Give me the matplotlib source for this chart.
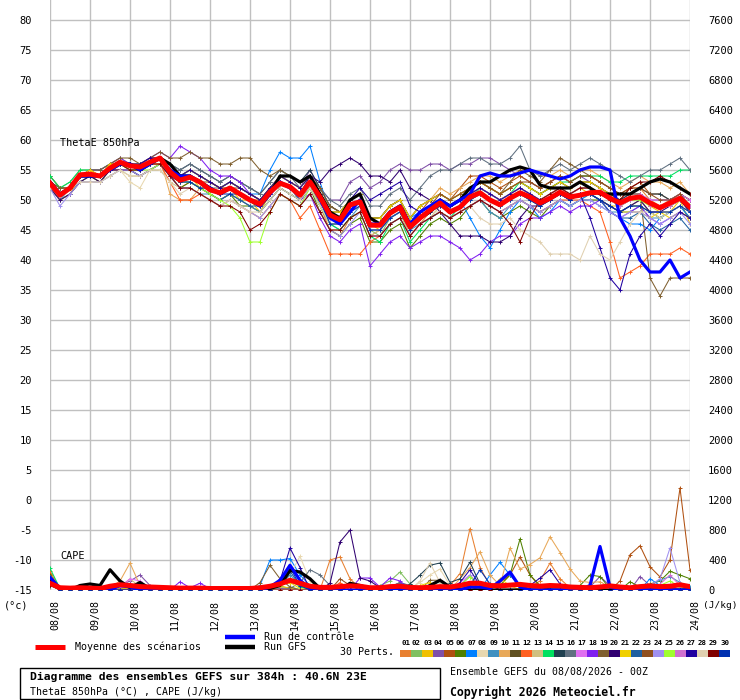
import numpy as np
import matplotlib
matplotlib.use('Agg')
import matplotlib.pyplot as plt
from matplotlib.patches import Rectangle

plt.rcParams['font.family'] = ['DejaVu Sans Mono', 'DejaVu Sans']

# time axis: GEFS output every 6h over 384h
hours = np.arange(0, 385, 6)
day_labels = ['08/08', '09/08', '10/08', '11/08', '12/08', '13/08', '14/08', '15/08', '16/08',
              '17/08', '18/08', '19/08', '20/08', '21/08', '22/08', '23/08', '24/08']
theta_ticks = list(range(-15, 81, 5))
cape_ticks = list(range(0, 7601, 400))

member_ids = ['%02d' % k for k in range(1, 31)]
member_colors = ['#e88030', '#80c060', '#f0c000', '#8050a8', '#b05010', '#508000', '#0080ff',
                 '#e8d8b0', '#4090c0', '#e8a858', '#605020', '#ff6020', '#d0c080', '#00e060',
                 '#204050', '#607080', '#e070f0', '#8020f0', '#806030', '#300070', '#f0d000',
                 '#2060a0', '#905020', '#a090f0', '#a0ff30', '#d070d0', '#2000a0', '#e0d0b0',
                 '#800000', '#0030b0']

# ---- ThetaE 850hPa (degC) ----
theta_mean = [52.8, 50.8, 52.0, 54.2, 54.3, 54.0, 55.3, 56.3, 55.7, 55.5, 56.3, 57.0, 54.7,
              53.3, 53.8, 53.0, 51.7, 51.2, 52.0, 51.0, 50.0, 49.3, 51.3, 52.8, 52.2, 50.8,
              53.0, 50.5, 47.5, 46.7, 49.2, 49.7, 45.8, 45.8, 47.8, 48.8, 45.5, 47.0, 48.3,
              49.5, 48.0, 48.8, 50.5, 51.2, 50.0, 49.2, 50.3, 51.2, 50.5, 49.5, 50.3, 51.3,
              50.5, 50.8, 51.2, 51.3, 50.3, 49.5, 50.3, 50.5, 49.5, 48.7, 49.5, 50.3, 48.8]
theta_ctrl = [53, 51, 52, 54, 54, 54, 55, 56, 56, 55, 56, 57, 55,
              54, 54, 53, 52, 51, 52, 51, 50, 49, 51, 53, 52, 51,
              53, 50, 47, 46, 48, 50, 46, 46, 48, 49, 46, 48, 49,
              50, 49, 50, 51, 54, 54.5, 54, 54, 54.5, 55, 54.5, 54, 53.5,
              54, 55, 55.5, 55.5, 55, 47, 44, 40, 38, 38, 40, 37, 38]
theta_gfs = [53, 51, 52, 54, 54, 54, 55, 56, 56, 55, 56, 57, 56,
             54, 54, 53, 52, 51, 52, 51, 50, 49, 51, 54, 54, 53,
             54, 51, 48, 47, 50, 51, 47, 46, 48, 49, 46, 47, 48,
             50, 49, 50, 52, 53, 53, 54, 55, 55.5, 55, 52.5, 52, 52,
             52, 53, 52, 51, 51, 51, 51, 52, 53, 53.5, 53, 52, 51]

theta_01 = [53, 51, 52, 54, 55, 54, 55, 56, 55, 55, 56, 57, 54,
            52, 53, 52, 51, 50, 51, 50, 49, 48, 50, 52, 51, 50,
            52, 49, 45, 44, 47, 48, 44, 45, 47, 48, 44, 46, 48,
            50, 49, 50, 52, 53, 52, 51, 52, 53, 52, 51, 52, 53,
            52, 53, 53, 52, 51, 50, 52, 52, 50, 49, 50, 51, 50]
theta_02 = [54, 52, 53, 55, 55, 55, 56, 57, 56, 56, 57, 57, 56,
            54, 55, 54, 53, 52, 53, 52, 51, 50, 52, 54, 53, 52,
            54, 51, 48, 46, 48, 50, 45, 44, 47, 48, 44, 46, 47,
            48, 47, 48, 49, 50, 49, 48, 49, 50, 49, 48, 49, 50,
            49, 50, 51, 50, 49, 48, 49, 50, 48, 47, 48, 49, 48]
theta_03 = [52, 50, 51, 54, 54, 53, 55, 56, 55, 55, 56, 56, 54,
            53, 54, 52, 52, 51, 52, 50, 50, 48, 51, 53, 52, 50,
            53, 49, 46, 46, 48, 50, 46, 45, 48, 49, 45, 47, 48,
            50, 49, 50, 51, 52, 51, 50, 51, 52, 51, 50, 51, 52,
            51, 52, 51, 50, 49, 49, 50, 51, 49, 48, 48, 50, 46]
theta_04 = [53, 51, 52, 54, 54, 54, 55, 56, 56, 55, 56, 57, 55,
            54, 55, 54, 53, 52, 53, 52, 51, 50, 52, 54, 53, 52,
            55, 52, 50, 50, 53, 54, 52, 53, 55, 56, 55, 55, 56,
            56, 55, 56, 56, 57, 57, 56, 55, 54, 53, 52, 53, 54,
            53, 54, 53, 52, 51, 50, 51, 51, 50, 50, 50, 51, 49]
theta_05 = [54, 52, 52, 54, 55, 54, 56, 56, 56, 56, 57, 57, 55,
            53, 54, 53, 52, 51, 52, 51, 50, 50, 51, 53, 52, 51,
            53, 51, 49, 48, 50, 51, 47, 46, 48, 49, 46, 48, 50,
            51, 50, 52, 54, 54, 53, 52, 53, 54, 53, 52, 53, 54,
            53, 54, 54, 53, 52, 51, 52, 53, 51, 51, 50, 51, 50]
theta_06 = [52, 50, 51, 53, 54, 53, 55, 55, 55, 54, 55, 56, 54,
            52, 53, 52, 51, 50, 51, 49, 49, 48, 50, 52, 51, 50,
            52, 48, 45, 44, 46, 47, 43, 43, 45, 46, 42, 44, 46,
            47, 46, 47, 49, 50, 48, 47, 48, 49, 48, 47, 49, 50,
            49, 50, 50, 50, 49, 48, 49, 49, 48, 47, 48, 49, 47]
theta_07 = [53, 51, 52, 54, 54, 54, 55, 55, 55, 55, 56, 57, 55,
            53, 54, 53, 52, 52, 53, 52, 51, 51, 55, 58, 57, 57,
            59, 53, 48, 47, 49, 50, 47, 47, 49, 50, 47, 48, 49,
            50, 49, 50, 47, 44, 42, 45, 48, 50, 49, 47, 48, 50,
            49, 50, 51, 50, 48, 47, 46, 46, 45, 47, 48, 49, 47]
theta_08 = [53, 51, 52, 54, 54, 54, 55, 55, 53, 52, 55, 56, 54,
            53, 54, 53, 52, 51, 52, 51, 50, 50, 52, 54, 53, 52,
            54, 51, 48, 48, 50, 51, 47, 46, 48, 49, 46, 48, 49,
            50, 49, 50, 51, 52, 51, 50, 51, 52, 51, 50, 51, 52,
            51, 52, 52, 51, 50, 49, 50, 50, 49, 49, 49, 50, 49]
theta_09 = [52, 50, 52, 53, 53, 53, 54, 55, 55, 54, 55, 56, 54,
            52, 52, 51, 51, 50, 51, 50, 49, 48, 50, 52, 51, 50,
            52, 49, 46, 45, 47, 49, 45, 45, 47, 48, 45, 46, 47,
            48, 47, 48, 49, 50, 48, 47, 49, 50, 49, 48, 49, 50,
            49, 50, 50, 49, 48, 48, 48, 49, 47, 47, 48, 49, 48]
theta_10 = [53, 51, 52, 54, 55, 54, 55, 56, 56, 56, 56, 57, 51,
            50, 50, 52, 52, 52, 52, 51, 50, 50, 52, 54, 53, 52,
            54, 51, 49, 48, 50, 51, 47, 47, 49, 50, 47, 49, 50,
            52, 51, 52, 53, 54, 54, 53, 54, 55, 55, 54, 54, 55,
            54, 55, 55, 54, 53, 52, 53, 54, 53, 53, 52, 53, 51]
theta_11 = [53, 52, 52, 54, 54, 54, 55, 56, 56, 55, 56, 57, 55,
            54, 55, 54, 53, 52, 53, 52, 51, 50, 52, 53, 52, 51,
            53, 51, 48, 48, 50, 51, 47, 47, 49, 50, 46, 48, 49,
            50, 49, 50, 51, 52, 51, 50, 51, 52, 51, 50, 51, 52,
            51, 52, 52, 51, 50, 49, 50, 51, 49, 49, 49, 50, 48]
theta_12 = [53, 51, 52, 54, 54, 54, 55, 55, 55, 55, 56, 56, 53,
            50, 50, 51, 50, 49, 50, 49, 48, 47, 49, 51, 50, 47,
            49, 45, 41, 41, 41, 41, 43, 44, 46, 47, 44, 46, 47,
            48, 47, 48, 49, 50, 49, 48, 49, 50, 49, 48, 49, 50,
            50, 50, 49, 48, 43, 37, 38, 39, 41, 41, 41, 42, 41]
theta_13 = [52, 50, 51, 53, 53, 53, 54, 55, 54, 54, 55, 55, 53,
            52, 52, 51, 50, 49, 50, 49, 48, 47, 49, 51, 50, 49,
            51, 48, 45, 45, 47, 48, 44, 45, 47, 48, 44, 46, 47,
            49, 48, 49, 50, 51, 50, 49, 50, 51, 50, 49, 50, 51,
            50, 51, 51, 50, 49, 48, 49, 50, 48, 48, 48, 49, 48]
theta_14 = [54, 52, 53, 55, 55, 55, 56, 56, 56, 56, 56, 57, 55,
            53, 54, 53, 52, 51, 52, 51, 50, 49, 51, 53, 52, 51,
            53, 50, 46, 45, 47, 48, 44, 43, 46, 47, 43, 45, 47,
            48, 47, 49, 50, 52, 51, 50, 51, 53, 52, 51, 52, 53,
            53, 54, 54, 54, 53, 53, 54, 54, 54, 54, 54, 55, 55]
theta_15 = [53, 51, 52, 54, 54, 54, 55, 56, 56, 55, 56, 57, 56,
            55, 56, 55, 54, 53, 54, 53, 52, 51, 53, 55, 54, 53,
            55, 52, 49, 48, 50, 51, 47, 47, 49, 50, 47, 49, 50,
            51, 50, 51, 52, 53, 52, 51, 52, 53, 52, 51, 52, 53,
            52, 53, 53, 52, 51, 50, 51, 52, 51, 51, 50, 51, 50]
theta_16 = [53, 51, 52, 54, 54, 54, 55, 56, 56, 55, 56, 57, 56,
            55, 56, 55, 54, 53, 54, 53, 52, 51, 53, 55, 54, 52,
            54, 52, 50, 49, 51, 52, 49, 49, 51, 52, 50, 52, 54,
            55, 55, 56, 57, 57, 56, 56, 57, 59, 55, 54, 55, 56,
            55, 56, 57, 56, 55, 54, 53, 54, 55, 55, 56, 57, 55]
theta_17 = [53, 51, 52, 54, 54, 54, 55, 56, 56, 55, 56, 57, 55,
            53, 54, 53, 52, 51, 52, 51, 50, 49, 51, 53, 52, 51,
            53, 50, 47, 47, 49, 50, 46, 46, 48, 49, 46, 48, 49,
            50, 49, 50, 51, 52, 51, 50, 51, 52, 51, 50, 51, 52,
            51, 52, 52, 51, 50, 49, 50, 51, 50, 50, 50, 51, 50]
theta_18 = [53, 51, 52, 54, 55, 55, 56, 57, 56, 56, 57, 58, 57,
            59, 58, 57, 55, 54, 54, 53, 51, 50, 52, 53, 52, 50,
            51, 47, 44, 43, 45, 46, 39, 41, 43, 44, 42, 43, 44,
            44, 43, 42, 40, 41, 43, 44, 44, 46, 47, 47, 48, 49,
            48, 49, 49, 50, 48, 47, 48, 49, 47, 46, 47, 48, 47]
theta_19 = [53, 52, 52, 54, 55, 55, 56, 57, 57, 56, 57, 58, 57,
            57, 58, 57, 57, 56, 56, 57, 57, 55, 54, 55, 54, 53,
            54, 52, 49, 48, 50, 51, 47, 47, 49, 50, 47, 49, 50,
            51, 50, 51, 52, 53, 52, 51, 53, 55, 54, 53, 55, 57,
            56, 55, 54, 53, 52, 51, 51, 51, 37, 34, 37, 37, 37]
theta_20 = [52, 50, 51, 53, 54, 53, 55, 55, 55, 54, 55, 56, 54,
            53, 54, 53, 52, 51, 52, 51, 50, 49, 51, 53, 52, 51,
            54, 53, 55, 56, 57, 56, 54, 54, 53, 55, 52, 51, 50,
            48, 46, 44, 44, 44, 43, 43, 44, 47, 49, 49, 50, 51,
            50, 51, 51, 50, 49, 48, 49, 50, 48, 48, 49, 50, 48]
theta_21 = [53, 51, 52, 54, 55, 54, 56, 56, 56, 56, 56, 57, 55,
            54, 55, 54, 53, 52, 53, 52, 51, 50, 52, 54, 53, 52,
            54, 51, 48, 48, 50, 51, 47, 47, 49, 50, 47, 49, 50,
            51, 50, 51, 52, 53, 52, 51, 52, 53, 52, 51, 52, 53,
            52, 53, 53, 52, 51, 48, 48, 48, 47, 48, 47, 48, 47]
theta_22 = [53, 51, 52, 54, 54, 54, 55, 56, 55, 55, 56, 57, 55,
            53, 53, 52, 51, 50, 51, 50, 49, 49, 51, 53, 52, 50,
            52, 49, 46, 46, 48, 49, 45, 45, 47, 48, 45, 47, 48,
            49, 48, 49, 50, 51, 50, 49, 50, 51, 50, 49, 50, 51,
            50, 51, 51, 50, 48, 47, 47, 48, 46, 45, 46, 47, 45]
theta_23 = [53, 51, 52, 54, 54, 54, 55, 56, 56, 55, 56, 57, 55,
            54, 54, 53, 53, 52, 52, 52, 51, 50, 52, 53, 52, 51,
            53, 51, 48, 47, 49, 50, 46, 46, 48, 49, 46, 48, 49,
            51, 50, 51, 52, 53, 52, 51, 52, 53, 53, 52, 53, 54,
            53, 54, 54, 53, 52, 51, 52, 52, 51, 50, 50, 51, 49]
theta_24 = [52, 49, 51, 53, 53, 53, 54, 55, 55, 54, 55, 56, 54,
            52, 52, 51, 50, 49, 50, 49, 48, 47, 49, 51, 50, 49,
            51, 48, 45, 44, 46, 48, 44, 44, 46, 47, 44, 46, 47,
            48, 47, 48, 49, 50, 49, 48, 49, 50, 49, 48, 49, 50,
            49, 50, 50, 49, 48, 47, 48, 48, 47, 46, 47, 48, 46]
theta_25 = [53, 51, 52, 54, 54, 54, 55, 56, 55, 55, 55, 56, 55,
            53, 53, 52, 51, 50, 49, 47, 43, 43, 48, 51, 50, 49,
            52, 49, 46, 46, 48, 50, 46, 46, 48, 49, 46, 48, 49,
            50, 49, 50, 51, 52, 51, 50, 51, 52, 51, 50, 51, 52,
            51, 52, 52, 51, 50, 49, 50, 50, 49, 49, 49, 50, 49]
theta_26 = [53, 51, 52, 54, 54, 54, 55, 56, 56, 55, 56, 57, 55,
            54, 54, 53, 52, 51, 52, 51, 50, 49, 51, 53, 52, 51,
            53, 50, 47, 46, 48, 50, 46, 46, 48, 49, 46, 48, 49,
            50, 49, 50, 51, 52, 51, 50, 51, 52, 51, 50, 51, 52,
            51, 52, 52, 51, 50, 49, 50, 51, 49, 49, 49, 50, 49]
theta_27 = [53, 51, 52, 54, 54, 54, 55, 56, 56, 56, 57, 57, 55,
            54, 55, 54, 53, 52, 53, 52, 51, 50, 52, 54, 53, 52,
            54, 51, 48, 47, 50, 52, 50, 51, 52, 53, 49, 48, 49,
            50, 49, 50, 51, 52, 51, 50, 51, 52, 51, 50, 50, 51,
            50, 51, 47, 42, 37, 35, 41, 44, 46, 44, 46, 48, 47]
theta_28 = [52, 51, 52, 53, 53, 53, 54, 55, 54, 54, 55, 55, 53,
            51, 52, 51, 50, 49, 50, 49, 48, 48, 50, 52, 51, 50,
            52, 49, 46, 46, 48, 49, 45, 45, 47, 48, 45, 47, 48,
            48, 47, 48, 49, 47, 46, 46, 47, 45, 44, 43, 41, 41,
            41, 40, 44, 41, 40, 43, 46, 48, 48, 47, 48, 49, 48]
theta_29 = [53, 51, 52, 54, 54, 54, 55, 56, 55, 55, 56, 56, 54,
            52, 52, 51, 50, 49, 49, 48, 45, 46, 48, 51, 50, 49,
            51, 48, 45, 45, 47, 48, 44, 44, 46, 47, 44, 46, 47,
            48, 47, 48, 49, 50, 49, 48, 46, 43, 47, 50, 51, 52,
            51, 52, 52, 51, 50, 50, 52, 53, 53, 54, 53, 52, 51]
theta_30 = [53, 51, 52, 54, 54, 54, 55, 56, 56, 55, 56, 57, 55,
            53, 53, 52, 52, 51, 51, 51, 50, 49, 51, 53, 52, 51,
            53, 50, 46, 46, 48, 49, 45, 45, 47, 48, 45, 47, 48,
            49, 48, 49, 50, 51, 50, 49, 50, 51, 50, 49, 50, 51,
            50, 51, 51, 50, 49, 48, 49, 49, 48, 48, 48, 49, 48]

# ---- CAPE (J/kg) ----
cape_mean = [90, 30, 25, 30, 25, 20, 50, 70, 60, 45, 40, 35, 30,
             25, 25, 25, 20, 20, 20, 20, 20, 30, 50, 80, 130, 90,
             50, 35, 35, 45, 55, 50, 30, 30, 45, 50, 35, 30, 35,
             45, 40, 60, 90, 90, 60, 55, 65, 75, 60, 50, 60, 55,
             40, 35, 30, 40, 55, 40, 30, 45, 55, 45, 50, 70, 45]
cape_ctrl = [170, 20, 0, 0, 0, 0, 0, 60, 40, 0, 0, 0, 0,
             0, 0, 0, 0, 0, 0, 0, 0, 0, 40, 130, 330, 130,
             20, 0, 0, 0, 0, 0, 0, 0, 0, 0, 0, 0, 0,
             0, 0, 0, 40, 40, 20, 120, 240, 40, 0, 0, 0, 0,
             0, 0, 60, 580, 40, 0, 0, 0, 0, 0, 0, 0, 0]
cape_gfs = [130, 20, 0, 60, 80, 60, 270, 120, 30, 100, 20, 0, 0,
            0, 0, 0, 0, 0, 0, 0, 0, 0, 20, 60, 260, 240,
            150, 20, 0, 0, 90, 60, 20, 0, 0, 0, 0, 0, 60,
            130, 40, 0, 0, 0, 0, 0, 0, 0, 0, 0, 0, 0,
            0, 0, 0, 0, 0, 0, 0, 0, 0, 0, 0, 0, 0]

cape_01 = [150, 10, 0, 0, 0, 0, 20, 30, 10, 0, 0, 0, 0,
           0, 0, 0, 0, 0, 0, 0, 0, 0, 10, 30, 20, 0,
           0, 0, 400, 440, 150, 20, 0, 0, 10, 20, 0, 0, 0,
           40, 60, 220, 820, 300, 60, 0, 0, 20, 40, 120, 360, 150,
           30, 0, 0, 0, 0, 0, 0, 0, 0, 0, 20, 10, 0]
cape_02 = [200, 20, 10, 0, 0, 0, 10, 20, 40, 80, 20, 0, 0,
           0, 0, 0, 0, 0, 0, 0, 0, 0, 0, 20, 40, 10,
           0, 0, 0, 0, 0, 10, 30, 60, 120, 240, 80, 20, 0,
           0, 20, 60, 180, 40, 0, 0, 10, 0, 0, 0, 10, 0,
           0, 0, 0, 0, 0, 0, 0, 0, 0, 0, 0, 0, 0]
cape_03 = [120, 10, 0, 0, 0, 0, 0, 10, 20, 10, 0, 0, 0,
           0, 0, 0, 0, 0, 0, 0, 0, 10, 30, 60, 20, 0,
           0, 0, 0, 0, 0, 0, 0, 0, 0, 0, 0, 0, 0,
           0, 0, 30, 100, 40, 20, 60, 200, 60, 10, 0, 0, 0,
           0, 0, 0, 0, 0, 0, 0, 0, 0, 0, 0, 0, 0]
cape_04 = [130, 10, 0, 0, 0, 0, 20, 60, 120, 200, 60, 10, 0,
           0, 0, 0, 0, 0, 0, 0, 0, 0, 0, 20, 10, 0,
           0, 0, 0, 0, 0, 0, 0, 0, 0, 20, 0, 0, 0,
           0, 0, 20, 60, 20, 0, 0, 0, 0, 0, 0, 0, 0,
           0, 0, 40, 180, 60, 0, 0, 180, 60, 0, 0, 0, 0]
cape_05 = [180, 10, 0, 0, 0, 0, 0, 10, 0, 0, 0, 0, 0,
           0, 0, 0, 0, 0, 0, 0, 0, 0, 0, 0, 0, 0,
           0, 0, 0, 0, 0, 0, 0, 0, 0, 0, 0, 0, 0,
           0, 0, 0, 40, 80, 60, 100, 200, 440, 200, 40, 0, 0,
           0, 0, 0, 0, 0, 120, 470, 590, 310, 175, 400, 1360, 270]
cape_06 = [220, 10, 0, 0, 0, 0, 0, 0, 0, 0, 0, 0, 0,
           0, 0, 0, 0, 0, 0, 0, 0, 0, 0, 0, 0, 0,
           0, 0, 0, 0, 0, 0, 0, 0, 0, 20, 0, 0, 0,
           0, 0, 0, 40, 0, 20, 60, 200, 680, 200, 60, 10, 0,
           0, 60, 200, 180, 20, 0, 110, 40, 80, 120, 250, 200, 150]
cape_07 = [160, 10, 0, 0, 0, 0, 0, 0, 0, 0, 0, 0, 0,
           0, 0, 0, 0, 0, 0, 0, 0, 60, 400, 400, 420, 200,
           60, 0, 0, 0, 0, 0, 0, 0, 0, 0, 0, 0, 0,
           0, 0, 20, 60, 0, 200, 370, 200, 40, 0, 0, 0, 0,
           0, 0, 0, 0, 0, 0, 0, 0, 150, 60, 0, 0, 0]
cape_08 = [100, 0, 0, 0, 0, 0, 0, 0, 0, 0, 0, 0, 0,
           0, 0, 0, 0, 0, 0, 0, 0, 0, 0, 60, 200, 450,
           120, 0, 0, 0, 0, 0, 0, 0, 0, 0, 20, 100, 200,
           280, 60, 20, 0, 0, 0, 0, 0, 0, 0, 0, 0, 0,
           0, 0, 0, 0, 0, 0, 0, 0, 0, 0, 0, 0, 0]
cape_09 = [120, 0, 0, 0, 0, 0, 0, 0, 0, 0, 0, 0, 0,
           0, 0, 0, 0, 0, 0, 0, 0, 0, 0, 60, 200, 80,
           0, 0, 0, 0, 0, 0, 0, 0, 0, 0, 0, 0, 0,
           0, 0, 0, 60, 30, 0, 0, 0, 0, 0, 0, 0, 0,
           0, 0, 0, 0, 0, 0, 0, 0, 60, 130, 180, 100, 40]
cape_10 = [140, 10, 0, 0, 0, 0, 30, 120, 360, 60, 0, 0, 0,
           0, 0, 0, 0, 0, 0, 0, 0, 0, 0, 0, 0, 0,
           0, 0, 0, 0, 0, 0, 0, 0, 0, 0, 0, 0, 0,
           0, 0, 150, 300, 510, 200, 60, 560, 280, 340, 430, 710, 500,
           280, 120, 100, 110, 40, 0, 0, 0, 0, 0, 0, 0, 0]
cape_11 = [80, 0, 0, 0, 0, 0, 0, 0, 0, 0, 0, 0, 0,
           0, 0, 0, 0, 0, 0, 0, 0, 0, 0, 0, 0, 0,
           0, 0, 0, 0, 0, 0, 0, 0, 40, 100, 40, 0, 0,
           0, 0, 0, 0, 0, 0, 0, 0, 0, 0, 0, 0, 0,
           0, 0, 0, 0, 0, 0, 0, 0, 0, 0, 0, 0, 0]
cape_12 = [250, 20, 0, 0, 0, 0, 0, 0, 0, 0, 0, 0, 0,
           0, 0, 0, 0, 0, 0, 0, 0, 0, 0, 0, 0, 0,
           0, 0, 0, 100, 0, 0, 0, 0, 0, 0, 0, 0, 0,
           0, 0, 0, 0, 0, 0, 0, 0, 0, 0, 0, 0, 0,
           0, 0, 0, 0, 0, 0, 0, 0, 0, 0, 0, 0, 0]
cape_13 = [90, 0, 0, 0, 0, 0, 0, 40, 150, 40, 0, 0, 0,
           0, 0, 0, 0, 0, 0, 0, 0, 0, 0, 0, 0, 0,
           0, 0, 0, 0, 0, 0, 0, 0, 0, 0, 0, 0, 0,
           0, 0, 0, 0, 0, 0, 0, 0, 0, 0, 0, 0, 0,
           0, 0, 0, 0, 0, 0, 0, 0, 0, 0, 0, 0, 0]
cape_14 = [290, 20, 0, 0, 0, 0, 0, 0, 0, 0, 0, 0, 0,
           0, 0, 0, 0, 0, 0, 0, 0, 0, 0, 60, 150, 40,
           0, 0, 0, 0, 0, 0, 0, 0, 0, 0, 0, 0, 0,
           0, 0, 0, 0, 0, 0, 0, 0, 0, 0, 0, 0, 0,
           0, 0, 0, 0, 0, 0, 0, 0, 0, 0, 0, 0, 0]
cape_15 = [100, 0, 0, 0, 0, 0, 0, 0, 0, 0, 0, 0, 0,
           0, 0, 0, 0, 0, 0, 0, 0, 0, 0, 0, 0, 0,
           0, 0, 0, 0, 0, 0, 0, 0, 0, 0, 80, 200, 330,
           360, 100, 150, 370, 80, 0, 0, 0, 0, 0, 0, 0, 0,
           0, 0, 0, 0, 0, 0, 0, 0, 0, 0, 0, 0, 0]
cape_16 = [110, 0, 0, 0, 0, 0, 0, 0, 0, 0, 0, 0, 0,
           0, 0, 0, 0, 0, 0, 0, 0, 0, 0, 0, 20, 100,
           270, 200, 60, 20, 0, 0, 0, 0, 40, 100, 60, 0, 0,
           0, 0, 0, 0, 0, 0, 0, 0, 0, 0, 0, 0, 0,
           0, 0, 0, 0, 0, 0, 0, 0, 0, 0, 0, 0, 0]
cape_17 = [100, 0, 0, 0, 0, 0, 0, 40, 150, 120, 20, 0, 0,
           0, 0, 0, 0, 0, 0, 0, 0, 0, 0, 0, 0, 0,
           0, 0, 0, 0, 0, 0, 0, 0, 0, 0, 0, 0, 0,
           0, 40, 100, 200, 60, 0, 0, 0, 0, 0, 0, 0, 0,
           0, 0, 0, 0, 0, 0, 0, 0, 0, 0, 0, 0, 0]
cape_18 = [120, 0, 0, 0, 0, 0, 0, 0, 0, 0, 0, 0, 0,
           110, 30, 90, 20, 0, 0, 0, 0, 0, 0, 0, 0, 0,
           0, 0, 0, 0, 0, 160, 160, 40, 160, 120, 0, 0, 0,
           0, 0, 0, 0, 0, 0, 0, 0, 0, 0, 0, 0, 0,
           0, 0, 0, 0, 0, 0, 0, 0, 0, 0, 0, 0, 0]
cape_19 = [60, 0, 0, 0, 0, 0, 0, 0, 0, 0, 0, 0, 0,
           0, 0, 0, 0, 0, 0, 0, 0, 100, 330, 150, 40, 0,
           0, 0, 0, 0, 0, 0, 0, 0, 0, 40, 0, 0, 130,
           130, 40, 0, 0, 0, 0, 0, 0, 0, 0, 0, 0, 0,
           0, 0, 0, 0, 0, 0, 0, 0, 0, 0, 0, 0, 0]
cape_20 = [80, 0, 0, 0, 0, 0, 0, 0, 0, 0, 0, 0, 0,
           0, 0, 0, 0, 0, 0, 0, 0, 0, 0, 0, 0, 0,
           0, 0, 90, 640, 800, 160, 120, 30, 0, 0, 0, 0, 0,
           0, 0, 0, 0, 0, 0, 0, 0, 0, 0, 0, 0, 0,
           0, 0, 0, 0, 0, 0, 0, 0, 0, 0, 0, 0, 0]
cape_21 = [90, 0, 0, 0, 0, 0, 0, 0, 0, 0, 0, 0, 0,
           0, 0, 0, 0, 0, 0, 0, 0, 0, 0, 60, 100, 20,
           0, 0, 0, 0, 0, 0, 0, 0, 0, 0, 0, 60, 100,
           40, 0, 30, 100, 0, 0, 150, 60, 0, 0, 0, 0, 0,
           0, 0, 0, 0, 0, 0, 0, 0, 0, 0, 0, 0, 0]
cape_22 = [70, 0, 0, 0, 0, 0, 0, 0, 0, 0, 0, 0, 0,
           0, 0, 0, 0, 0, 0, 0, 0, 0, 0, 80, 250, 60,
           0, 0, 0, 0, 0, 0, 0, 0, 0, 0, 0, 0, 0,
           0, 0, 0, 0, 0, 0, 0, 0, 0, 0, 0, 0, 0,
           0, 0, 0, 0, 0, 0, 0, 0, 0, 0, 40, 80, 20]
cape_23 = [110, 0, 0, 0, 0, 0, 0, 0, 0, 0, 0, 0, 0,
           0, 0, 0, 0, 0, 0, 0, 0, 0, 0, 0, 0, 0,
           0, 0, 0, 150, 60, 0, 0, 0, 0, 0, 0, 0, 0,
           0, 0, 0, 0, 0, 0, 0, 0, 0, 0, 0, 0, 0,
           0, 0, 0, 0, 0, 0, 0, 0, 0, 0, 0, 0, 0]
cape_24 = [130, 0, 0, 0, 0, 0, 0, 0, 0, 0, 0, 0, 0,
           0, 0, 0, 0, 0, 0, 0, 0, 0, 0, 0, 0, 0,
           0, 0, 0, 0, 0, 0, 0, 0, 0, 0, 0, 0, 0,
           0, 0, 60, 200, 40, 0, 0, 0, 0, 0, 0, 0, 0,
           0, 0, 0, 0, 0, 0, 0, 0, 60, 150, 560, 100, 0]
cape_25 = [180, 0, 0, 0, 0, 0, 0, 0, 0, 0, 0, 0, 0,
           0, 0, 0, 0, 0, 0, 0, 0, 0, 0, 0, 0, 0,
           0, 0, 0, 0, 0, 0, 0, 0, 0, 0, 0, 0, 0,
           0, 0, 60, 180, 40, 0, 0, 0, 0, 0, 0, 0, 0,
           0, 0, 0, 0, 0, 0, 0, 0, 0, 60, 120, 40, 0]
cape_26 = [100, 0, 0, 0, 0, 0, 0, 0, 0, 0, 0, 0, 0,
           0, 0, 0, 0, 0, 0, 0, 0, 0, 0, 0, 0, 0,
           0, 0, 0, 0, 0, 0, 0, 0, 0, 0, 0, 0, 0,
           0, 0, 0, 0, 0, 0, 0, 0, 0, 0, 0, 0, 0,
           0, 0, 0, 0, 0, 0, 0, 0, 0, 80, 200, 60, 0]
cape_27 = [90, 0, 0, 0, 0, 0, 0, 0, 0, 0, 0, 0, 0,
           0, 0, 0, 0, 0, 0, 0, 0, 0, 0, 120, 560, 300,
           0, 0, 0, 0, 0, 0, 0, 0, 0, 0, 0, 0, 0,
           0, 0, 100, 270, 60, 0, 0, 0, 0, 60, 160, 270, 80,
           0, 0, 0, 0, 0, 0, 0, 0, 0, 0, 0, 0, 0]
cape_28 = [90, 0, 0, 0, 0, 0, 0, 0, 0, 0, 0, 0, 0,
           0, 0, 0, 0, 0, 0, 0, 0, 0, 0, 0, 0, 0,
           0, 0, 0, 0, 0, 0, 0, 0, 0, 0, 0, 120, 360,
           100, 0, 0, 0, 0, 0, 0, 0, 0, 0, 0, 0, 0,
           0, 0, 0, 0, 0, 0, 0, 0, 0, 0, 0, 0, 0]
cape_29 = [70, 0, 0, 0, 0, 0, 0, 0, 0, 0, 0, 0, 0,
           0, 0, 0, 0, 0, 0, 0, 0, 0, 0, 0, 0, 0,
           0, 0, 0, 0, 0, 0, 0, 0, 0, 0, 0, 0, 0,
           0, 0, 0, 0, 0, 0, 0, 0, 0, 0, 0, 0, 0,
           0, 0, 0, 0, 0, 0, 0, 0, 0, 0, 0, 0, 0]
cape_30 = [110, 0, 0, 0, 0, 0, 0, 0, 0, 0, 0, 0, 0,
           0, 0, 0, 0, 0, 0, 0, 0, 0, 0, 100, 300, 60,
           0, 0, 0, 0, 0, 0, 0, 0, 0, 0, 0, 0, 0,
           0, 0, 0, 60, 270, 80, 0, 0, 0, 0, 0, 0, 0,
           0, 0, 0, 0, 0, 0, 0, 0, 0, 0, 0, 0, 0]

theta_members = [theta_01, theta_02, theta_03, theta_04, theta_05, theta_06, theta_07, theta_08,
                 theta_09, theta_10, theta_11, theta_12, theta_13, theta_14, theta_15, theta_16,
                 theta_17, theta_18, theta_19, theta_20, theta_21, theta_22, theta_23, theta_24,
                 theta_25, theta_26, theta_27, theta_28, theta_29, theta_30]
cape_members = [cape_01, cape_02, cape_03, cape_04, cape_05, cape_06, cape_07, cape_08,
                cape_09, cape_10, cape_11, cape_12, cape_13, cape_14, cape_15, cape_16,
                cape_17, cape_18, cape_19, cape_20, cape_21, cape_22, cape_23, cape_24,
                cape_25, cape_26, cape_27, cape_28, cape_29, cape_30]

# ---- figure (pixel layout 740x700) ----
W, H = 740, 700
fig = plt.figure(figsize=(W / 100, H / 100), dpi=100)
fig.patch.set_facecolor('white')

ax = fig.add_axes([50 / W, 110 / H, 640 / W, 590 / H])
theta_top = 80 + 20 / 6.0
ax.set_xlim(0, 384)
ax.set_ylim(-15, theta_top)
for sp in ax.spines.values():
    sp.set_visible(False)
ax.set_xticks(np.arange(0, 385, 24))
ax.set_xticklabels(day_labels, rotation=90, ha='left', va='top', fontsize=7.2)
ax.set_yticks(theta_ticks)
ax.set_yticklabels([str(v) for v in theta_ticks], fontsize=7.5)
ax.tick_params(axis='both', length=0)
ax.tick_params(axis='y', pad=13)
ax.tick_params(axis='x', pad=7)
ax.grid(True, color='#c0c0c0', linewidth=1.0)
ax.set_axisbelow(True)

# CAPE scale: 0 J/kg at -15, 400 J/kg per 5 degC
ax2 = ax.twinx()
ax2.set_ylim(0, (theta_top + 15) * 80)
for sp in ax2.spines.values():
    sp.set_visible(False)
ax2.set_yticks(cape_ticks)
ax2.set_yticklabels([str(v) for v in cape_ticks], fontsize=7.5)
ax2.tick_params(axis='y', length=0, pad=13)

mk = dict(marker='+', markersize=3, markeredgewidth=0.7)
for vals, col in zip(theta_members, member_colors):
    ax.plot(hours, vals, color=col, linewidth=0.75, zorder=2, **mk)
for vals, col in zip(cape_members, member_colors):
    ax2.plot(hours, vals, color=col, linewidth=0.75, zorder=2, **mk)

ax.plot(hours, theta_gfs, color='black', linewidth=2.3, zorder=3)
ax.plot(hours, theta_ctrl, color='#0000ff', linewidth=2.3, zorder=4)
ax.plot(hours, theta_mean, color='#ff0000', linewidth=3.6, zorder=5)
ax2.plot(hours, cape_gfs, color='black', linewidth=2.3, zorder=3)
ax2.plot(hours, cape_ctrl, color='#0000ff', linewidth=2.3, zorder=4)
ax2.plot(hours, cape_mean, color='#ff0000', linewidth=3.6, zorder=5)

# ---- overlay in pixel coordinates for labels and legend ----
ov = fig.add_axes([0, 0, 1, 1], zorder=10)
ov.set_xlim(0, W)
ov.set_ylim(H, 0)
ov.axis('off')

ov.text(60, 143, 'ThetaE 850hPa', fontsize=7.3, va='center')
ov.text(60, 556, 'CAPE', fontsize=7.3, va='center')
ov.text(4, 606, '(°c)', fontsize=7.3, va='center')
ov.text(703, 606, '(J/kg)', fontsize=6.8, va='center')

ov.plot([35, 65], [647, 647], color='#ff0000', linewidth=3.6, solid_capstyle='butt')
ov.text(75, 647, 'Moyenne des scénarios', fontsize=7.2, va='center')
ov.plot([225, 255], [637, 637], color='#0000ff', linewidth=3.2, solid_capstyle='butt')
ov.text(264, 637, 'Run de contrôle', fontsize=7.2, va='center')
ov.plot([225, 255], [647, 647], color='black', linewidth=3.2, solid_capstyle='butt')
ov.text(264, 647, 'Run GFS', fontsize=7.2, va='center')
ov.text(340, 652, '30 Perts.', fontsize=7.2, va='center')

for k, (mid, col) in enumerate(zip(member_ids, member_colors)):
    x0 = 400 + 11 * k
    ov.add_patch(Rectangle((x0, 649.5), 11, 7.5, facecolor=col, edgecolor='none'))
    ov.text(x0 + 5.5, 643, mid, fontsize=5.3, fontweight='bold', ha='center', va='center')

ov.add_patch(Rectangle((20, 667.5), 420, 31.5, facecolor='none', edgecolor='black', linewidth=1.0))
ov.text(30, 677, 'Diagramme des ensembles GEFS sur 384h : 40.6N 23E',
        fontsize=8.2, fontweight='bold', va='center')
ov.text(30, 692, 'ThetaE 850hPa (°C) , CAPE (J/kg)', fontsize=7.1, va='center')
ov.text(450, 672, 'Ensemble GEFS du 08/08/2026 - 00Z', fontsize=7.1, va='center')
ov.text(450, 692, 'Copyright 2026 Meteociel.fr', fontsize=8.3, fontweight='bold', va='center')

fig.savefig('out.png', dpi=100)
